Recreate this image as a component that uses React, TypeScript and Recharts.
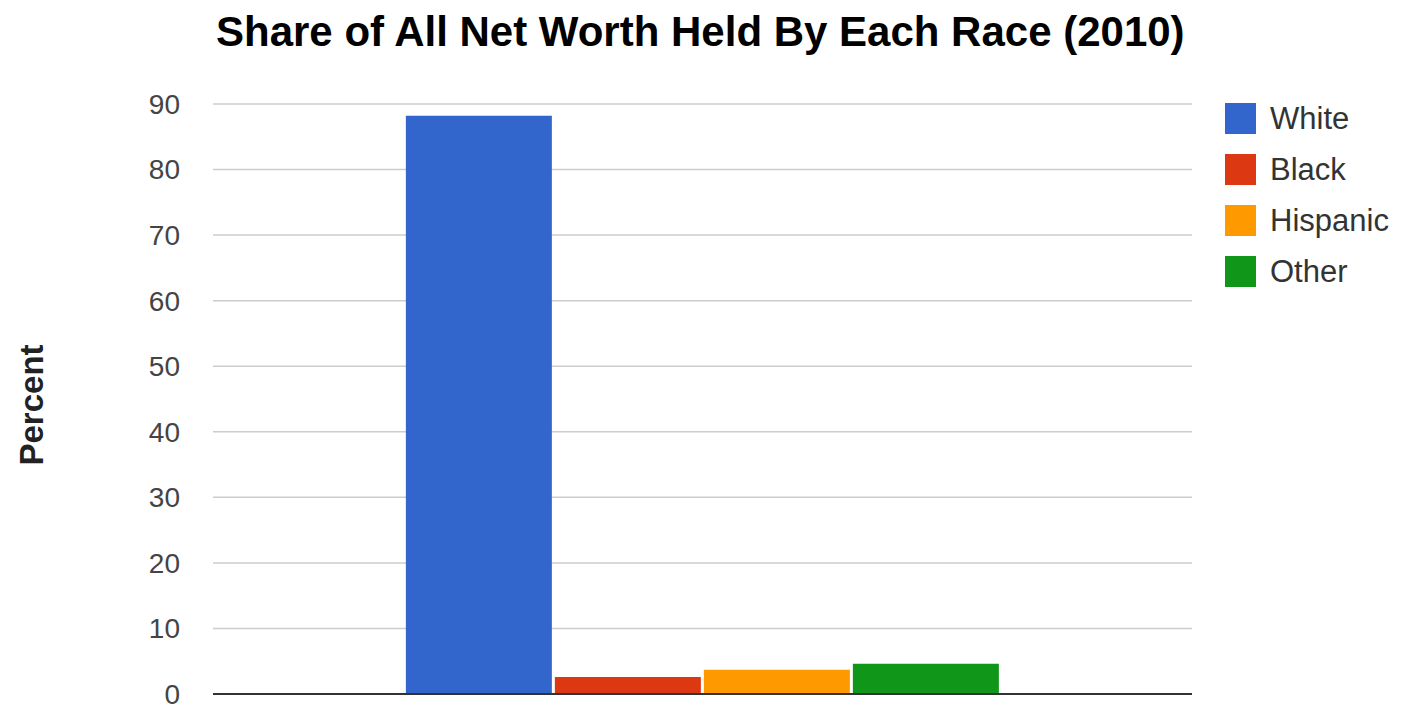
import React from 'react';
import { BarChart, Bar, XAxis, YAxis, CartesianGrid, Legend, ReferenceLine } from 'recharts';

const categories = ['2010'];
const seriesNames = ['White', 'Black', 'Hispanic', 'Other'];
const white = [88.2];
const black = [2.6];
const hispanic = [3.7];
const other = [4.6];
const yTicks = [0, 10, 20, 30, 40, 50, 60, 70, 80, 90];
const colors = ['#3366cc', '#dc3912', '#ff9900', '#109618'];
const title = 'Share of All Net Worth Held By Each Race (2010)';
const yLabel = 'Percent';

const data = categories.map((c, i) => ({
  name: c,
  White: white[i],
  Black: black[i],
  Hispanic: hispanic[i],
  Other: other[i],
}));

const FONT = "Arial, 'Liberation Sans', sans-serif";

const LegendContent = () => {
  return (
    <div style={{ fontFamily: FONT }}>
      {seriesNames.map((s, i) => (
        <div key={s} style={{ display: 'flex', alignItems: 'center', height: 51 }}>
          <div style={{ width: 31, height: 31, background: colors[i], marginRight: 14 }} />
          <span style={{ fontSize: 31, color: '#333', lineHeight: '31px' }}>{s}</span>
        </div>
      ))}
    </div>
  );
};

const YLabel = (props: any) => {
  const vb = props.viewBox || { x: 0, y: 0, height: 0 };
  const x = 43;
  const y = vb.y + vb.height / 2 + 6;
  return (
    <text
      x={x}
      y={y}
      transform={`rotate(-90, ${x}, ${y})`}
      textAnchor="middle"
      fontFamily={FONT}
      fontSize={33}
      fontWeight="bold"
      fill="#222"
    >
      {yLabel}
    </text>
  );
};

export default function App() {
  return (
    <div style={{ position: 'absolute', left: 0, top: 0, width: 1407, height: 707, background: '#fff', overflow: 'hidden' }}>
      <div
        style={{
          position: 'absolute',
          left: 216,
          top: 11,
          fontFamily: FONT,
          fontSize: 42,
          fontWeight: 'bold',
          lineHeight: 1,
          color: '#000',
          whiteSpace: 'nowrap',
        }}
      >
        {title}
      </div>
      <BarChart
        width={1407}
        height={707}
        data={data}
        margin={{ top: 104, right: 35, bottom: 13, left: 0 }}
        barCategoryGap="19.7%"
        barGap={3}
      >
        <CartesianGrid vertical={false} stroke="#cccccc" strokeWidth={1.5} />
        <XAxis dataKey="name" tick={false} tickLine={false} axisLine={false} height={0} />
        <YAxis
          width={213}
          domain={[0, 90]}
          ticks={yTicks}
          interval={0}
          axisLine={false}
          tickLine={false}
          tickSize={0}
          tickMargin={33}
          tick={{ fontFamily: FONT, fontSize: 28, fill: '#444' }}
          label={<YLabel />}
        />
        <Legend
          layout="vertical"
          align="right"
          verticalAlign="top"
          content={<LegendContent />}
          wrapperStyle={{ position: 'absolute', left: 1225, top: 93, width: 180 }}
        />
        {seriesNames.map((s, i) => (
          <Bar key={s} dataKey={s} fill={colors[i]} isAnimationActive={false} />
        ))}
        <ReferenceLine y={0} stroke="#333333" strokeWidth={2} />
      </BarChart>
    </div>
  );
}
